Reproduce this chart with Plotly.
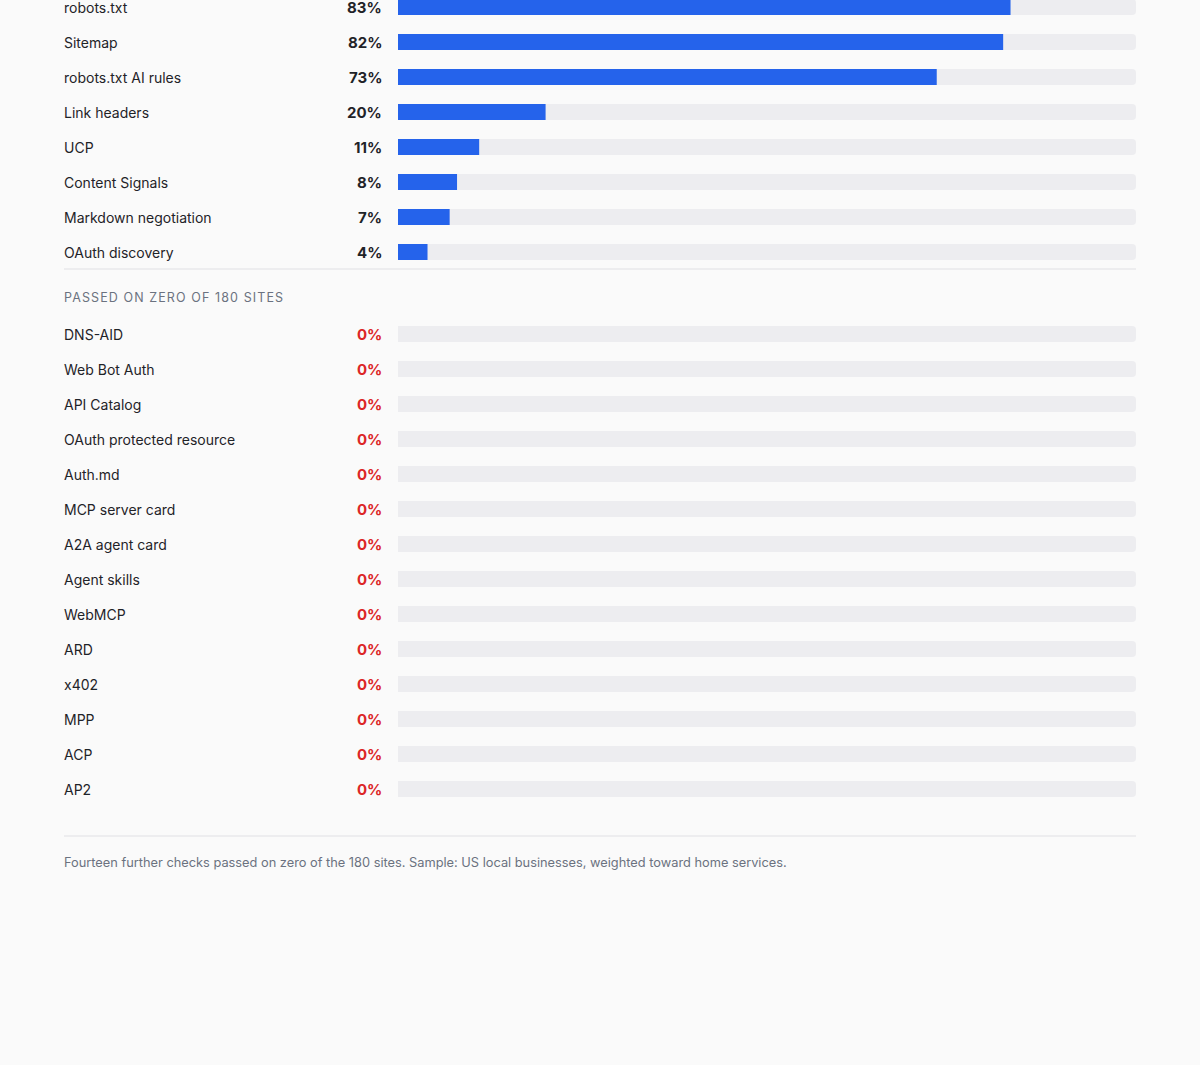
import plotly.graph_objects as go

# --- dados ---
passed_checks = ["robots.txt", "Sitemap", "robots.txt AI rules", "Link headers",
                 "UCP", "Content Signals", "Markdown negotiation", "OAuth discovery"]
passed_pct = [83, 82, 73, 20, 11, 8, 7, 4]

zero_checks = ["DNS-AID", "Web Bot Auth", "API Catalog", "OAuth protected resource",
               "Auth.md", "MCP server card", "A2A agent card", "Agent skills",
               "WebMCP", "ARD", "x402", "MPP", "ACP", "AP2"]
zero_pct = [0] * len(zero_checks)

section_title = "PASSED ON ZERO OF 180 SITES"
footnote = ("Fourteen further checks passed on zero of the 180 sites. "
            "Sample: US local businesses, weighted toward home services.")

# --- estilo ---
W, H = 1200, 1065
BG = "#fafafa"
BLUE = "#2563eb"
TRACK = "#ededf0"
TXT = "#1f2328"
MUTED = "#6b7280"
RED = "#dc2626"
RULE = "#e8e8eb"
FONT = "Inter, 'Open Sans', sans-serif"

ROW = 35
top1 = 7                       # centro da primeira linha (px)
top2 = top1 + ROW * len(passed_checks) + 47
rule1 = top1 + ROW * (len(passed_checks) - 1) + 17
head_y = rule1 + 28
rule2 = top2 + ROW * (len(zero_checks) - 1) + 47
foot_y = rule2 + 26

y1 = [top1 + ROW * i for i in range(len(passed_checks))]
y2 = [top2 + ROW * i for i in range(len(zero_checks))]
all_y = y1 + y2
all_names = passed_checks + zero_checks
all_pct = passed_pct + zero_pct

LX = 64 / W
PX = 382 / W
X0, X1 = 398 / W, 1136 / W

fig = go.Figure()

# trilho cinza
fig.add_trace(go.Bar(
    x=[100] * len(all_y), y=all_y, orientation="h", width=16,
    marker=dict(color=TRACK, line=dict(width=0)), hoverinfo="skip",
))
# barras de valor
fig.add_trace(go.Bar(
    x=all_pct, y=all_y, orientation="h", width=16,
    marker=dict(color=BLUE, line=dict(width=0)), hoverinfo="skip",
))

annotations = []
for name, pct, y in zip(all_names, all_pct, all_y):
    annotations.append(dict(
        x=LX, y=y, xref="paper", yref="y", text=name, showarrow=False,
        xanchor="left", yanchor="middle", xshift=-2,
        font=dict(family=FONT, size=14, color=TXT),
    ))
    annotations.append(dict(
        x=PX, y=y, xref="paper", yref="y", text=f"<b>{pct}%</b>", showarrow=False,
        xanchor="right", yanchor="middle", xshift=2,
        font=dict(family=FONT, size=15, color=RED if pct == 0 else TXT),
    ))

annotations.append(dict(
    x=LX, y=head_y, xref="paper", yref="y",
    text=f'<span style="letter-spacing:1.1px">{section_title}</span>',
    showarrow=False, xanchor="left", yanchor="middle", xshift=-2,
    font=dict(family=FONT, size=12.5, color=MUTED),
))
annotations.append(dict(
    x=LX, y=foot_y, xref="paper", yref="y", text=footnote, showarrow=False,
    xanchor="left", yanchor="middle", xshift=-2,
    font=dict(family=FONT, size=12.8, color=MUTED),
))

shapes = [
    dict(type="line", xref="paper", yref="y", x0=LX, x1=X1, y0=yy, y1=yy,
         line=dict(color=RULE, width=1.5))
    for yy in (rule1, rule2)
]

fig.update_layout(
    width=W, height=H,
    paper_bgcolor=BG, plot_bgcolor=BG,
    margin=dict(l=0, r=0, t=0, b=0),
    barmode="overlay", barcornerradius=4,
    showlegend=False,
    xaxis=dict(domain=[X0, X1], range=[0, 100], visible=False, fixedrange=True),
    yaxis=dict(range=[H, 0], visible=False, fixedrange=True),
    annotations=annotations,
    shapes=shapes,
)

fig.write_html(
    "out.html",
    config={"displayModeBar": False},
    post_script="document.body.style.margin='0';document.body.style.background='#fafafa';",
)
